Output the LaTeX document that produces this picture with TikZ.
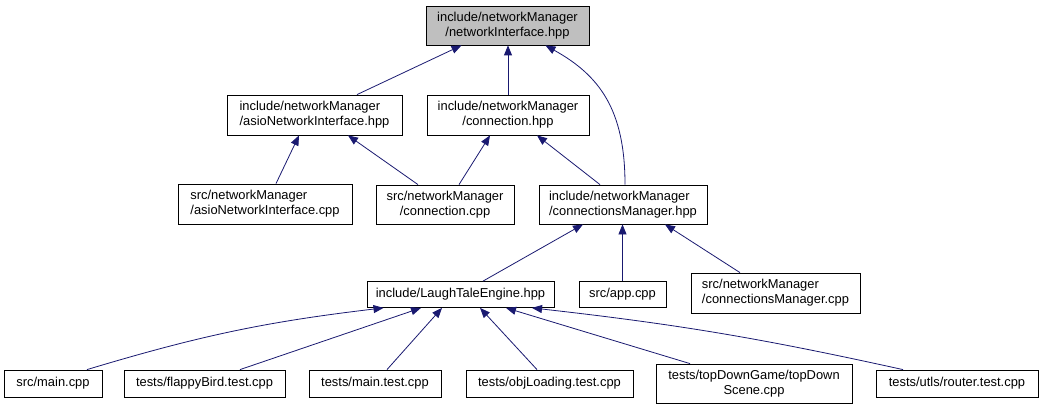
\documentclass[tikz,border=0pt]{standalone}
\usepackage{fontspec}
\setmainfont{Liberation Sans}
\usetikzlibrary{arrows.meta,calc}
\definecolor{midnight}{RGB}{25,25,112}

\begin{document}
\begin{tikzpicture}[x=1pt,y=-1pt,
  file/.style={draw=black,line width=0.8pt,fill=white,inner sep=0pt,
    font=\fontsize{12.9}{15}\selectfont,align=center,minimum height=26pt},
  edge/.style={draw=midnight,line width=0.8pt,-{Triangle[length=10pt,width=8pt]}}]
\useasboundingbox (0,0) rectangle (1045,409);

% Step 1: the included header
\node[file,fill=black!25,minimum width=163pt,minimum height=39pt] (ni) at (507.5,25.5) {include/networkManager\\/networkInterface.hpp};

% Step 2: headers that include it
\node[file,align=left,minimum width=175pt,minimum height=40pt] (asiohpp) at (314.5,115) {include/networkManager\\/asioNetworkInterface.hpp};
\node[file,minimum width=162pt,minimum height=40pt] (connhpp) at (508,115) {include/networkManager\\/connection.hpp};

\node[file,align=left,minimum width=174pt,minimum height=40pt] (asiocpp) at (265,204) {src/networkManager\\/asioNetworkInterface.cpp};
\node[file,minimum width=138pt,minimum height=39pt] (conncpp) at (445,204.5) {src/networkManager\\/connection.cpp};
\node[file,align=left,minimum width=168pt,minimum height=39pt] (cmhpp) at (623,204.5) {include/networkManager\\/connectionsManager.hpp};

% Step 3: engine level
\node[file,minimum width=187pt] (lte) at (460.5,294.5) {include/LaughTaleEngine.hpp};
\node[file,minimum width=87pt] (app) at (622.5,294.5) {src/app.cpp};
\node[file,align=left,minimum width=169pt,minimum height=40pt] (cmcpp) at (775.5,293) {src/networkManager\\/connectionsManager.cpp};

% Step 4: sources and tests
\node[file,minimum width=98pt,minimum height=27pt] (main) at (53,383.5) {src/main.cpp};
\node[file,minimum width=161pt,minimum height=27pt] (flappy) at (204.5,383.5) {tests/flappyBird.test.cpp};
\node[file,minimum width=132pt,minimum height=27pt] (maintest) at (375,383.5) {tests/main.test.cpp};
\node[file,minimum width=167pt,minimum height=27pt] (obj) at (549.5,383.5) {tests/objLoading.test.cpp};
\node[file,minimum width=196pt,minimum height=39pt] (topdown) at (754,383.5) {tests/topDownGame/topDown\\Scene.cpp};
\node[file,minimum width=162pt,minimum height=27pt] (router) at (957,383.5) {tests/utls/router.test.cpp};

% Step 5: include edges
\draw[edge] ([xshift=42.5pt]asiohpp.north) -- ([xshift=-46pt]ni.south);
\draw[edge] (connhpp.north) -- ([xshift=0.5pt]ni.south);
\draw[edge] ([xshift=2pt]cmhpp.north) .. controls ([xshift=2pt,yshift=75pt]cmhpp.north) and ([xshift=92pt,yshift=-30pt]ni.south) .. ([xshift=38pt]ni.south);

\draw[edge] ([xshift=11pt]asiocpp.north) -- ([xshift=-15.5pt]asiohpp.south);
\draw[edge] ([xshift=-27pt]conncpp.north) -- ([xshift=33.5pt]asiohpp.south);
\draw[edge] ([xshift=14pt]conncpp.north) -- ([xshift=-18pt]connhpp.south);
\draw[edge] ([xshift=-23pt]cmhpp.north) -- ([xshift=29pt]connhpp.south);

\draw[edge] ([xshift=22.5pt]lte.north) -- ([xshift=-40pt]cmhpp.south);
\draw[edge] (app.north) -- (app.north |- cmhpp.south);
\draw[edge] ([xshift=-35.5pt]cmcpp.north) -- ([xshift=42pt]cmhpp.south);

\draw[edge] ([xshift=34pt]main.north) to[bend left=5] ([xshift=-77pt]lte.south);
\draw[edge] ([xshift=35.5pt]flappy.north) -- ([xshift=-39.5pt]lte.south);
\draw[edge] ([xshift=12pt]maintest.north) -- ([xshift=-18.5pt]lte.south);
\draw[edge] ([xshift=-12.5pt]obj.north) -- ([xshift=19.5pt]lte.south);
\draw[edge] ([xshift=-64pt]topdown.north) -- ([xshift=45.5pt]lte.south);
\draw[edge] ([xshift=-54pt]router.north) to[bend right=3] ([xshift=71.5pt]lte.south);

\end{tikzpicture}
\end{document}
